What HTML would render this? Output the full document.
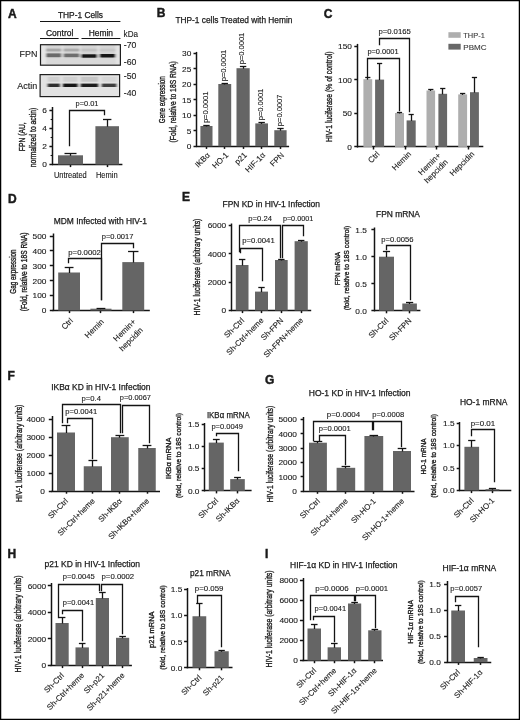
<!DOCTYPE html>
<html><head><meta charset="utf-8"><title>Figure</title>
<style>
html,body{margin:0;padding:0;background:#fff;}
body{width:520px;height:720px;overflow:hidden;}
svg{display:block;will-change:transform;}
svg text{font-family:"Liberation Sans", sans-serif;fill:#1a1a1a;stroke:#1a1a1a;stroke-width:0.12px;}
svg text.yl{stroke-width:0.35px;}
svg text.lt{stroke-width:0.45px;}
svg text.tt{stroke-width:0.25px;}
</style></head>
<body>
<svg width="520" height="720" viewBox="0 0 520 720">
<rect x="0" y="0" width="520" height="720" fill="#fff"/>
<text x="8" y="17.5" font-size="12" font-weight="bold" class="lt">A</text>
<text x="57.9" y="18.3" font-size="8.4" textLength="45.1" lengthAdjust="spacingAndGlyphs" class="tt">THP-1 Cells</text>
<line x1="40" y1="21.5" x2="120.4" y2="21.5" stroke="#141414" stroke-width="1.1"/>
<text x="46" y="36" font-size="8.4" textLength="27.3" lengthAdjust="spacingAndGlyphs" class="tt">Control</text>
<text x="88.7" y="36" font-size="8.4" textLength="24.3" lengthAdjust="spacingAndGlyphs" class="tt">Hemin</text>
<line x1="40" y1="38.5" x2="78.6" y2="38.5" stroke="#141414" stroke-width="1.1"/>
<line x1="81.5" y1="38.5" x2="120.4" y2="38.5" stroke="#141414" stroke-width="1.1"/>
<text x="123.6" y="36.6" font-size="8.4" textLength="14.4" lengthAdjust="spacingAndGlyphs">kDa</text>
<text x="123.8" y="48.3" font-size="8.2" textLength="12.6" lengthAdjust="spacingAndGlyphs">-70</text>
<text x="123.8" y="65.4" font-size="8.2" textLength="12.6" lengthAdjust="spacingAndGlyphs">-60</text>
<text x="123.8" y="79" font-size="8.2" textLength="12.6" lengthAdjust="spacingAndGlyphs">-50</text>
<text x="123.8" y="95.5" font-size="8.2" textLength="12.6" lengthAdjust="spacingAndGlyphs">-40</text>
<text x="19.6" y="57.2" font-size="9" textLength="17.8" lengthAdjust="spacingAndGlyphs">FPN</text>
<text x="17.3" y="89.4" font-size="9" textLength="20" lengthAdjust="spacingAndGlyphs">Actin</text>

<defs>
<linearGradient id="bg1" x1="0" y1="0" x2="1" y2="0">
<stop offset="0" stop-color="#d4d4d4"/><stop offset="0.3" stop-color="#dcdcdc"/><stop offset="0.55" stop-color="#cfcfcf"/><stop offset="1" stop-color="#d6d6d6"/>
</linearGradient>
<filter id="blur1" x="-20%" y="-50%" width="140%" height="200%"><feGaussianBlur stdDeviation="0.9 0.7"/></filter>
<filter id="blur2" x="-20%" y="-50%" width="140%" height="200%"><feGaussianBlur stdDeviation="0.6 0.5"/></filter>
</defs>
<clipPath id="cp1"><rect x="40.8" y="44.7" width="79.2" height="19.9"/></clipPath>
<clipPath id="cp2"><rect x="40.6" y="75.1" width="78.6" height="21.1"/></clipPath>
<rect x="40.5" y="44.7" width="79.9" height="20.5" fill="#d4d4d4"/>
<g clip-path="url(#cp1)"><g filter="url(#blur1)">
<rect x="40.5" y="44.2" width="5.5" height="20.8" fill="#e6e6e6"/>
<rect x="115.5" y="44.2" width="4.9" height="20.8" fill="#e4e4e4"/>
<rect x="61.3" y="44.2" width="2.3" height="20.8" fill="#e2e2e2"/>
<rect x="79.4" y="44.2" width="1.6" height="20.8" fill="#e2e2e2"/>
<rect x="97.2" y="44.2" width="2.4" height="20.8" fill="#e2e2e2"/>
<rect x="46" y="58.5" width="69.5" height="6.5" fill="#d9d9d9"/>
<rect x="46" y="48.6" width="15.3" height="2.8" fill="#a8a8a8"/>
<rect x="63.6" y="48.6" width="15.8" height="2.8" fill="#acacac"/>
<rect x="81" y="48.6" width="16.2" height="2.8" fill="#c2c2c2"/>
<rect x="99.6" y="48.6" width="15.7" height="2.8" fill="#c8c8c8"/>
<rect x="46" y="53.4" width="15.3" height="3.8" fill="#6a6a6a"/>
<rect x="63.6" y="53.6" width="15.8" height="3.6" fill="#6e6e6e"/>
<rect x="81" y="54.3" width="16.2" height="3.4" fill="#141414"/>
<rect x="99.6" y="54" width="15.7" height="3.5" fill="#121212"/>
</g></g>
<rect x="40.5" y="44.7" width="79.9" height="20.5" fill="none" stroke="#1e1e1e" stroke-width="1.2"/>
<rect x="40.1" y="74.6" width="79.5" height="22" fill="#e2e2e2"/>
<g clip-path="url(#cp2)"><g filter="url(#blur1)">
<rect x="47.7" y="76.8" width="12.1" height="4.9" fill="#cfcfcf"/>
<rect x="63" y="76.8" width="14.6" height="4.9" fill="#d0d0d0"/>
<rect x="80.8" y="76.8" width="17.3" height="4.9" fill="#c6c6c6"/>
<rect x="101.8" y="76.8" width="14.6" height="4.9" fill="#d6d6d6"/>
<rect x="47.7" y="83.6" width="12.1" height="3.4" fill="#2e2e2e"/>
<rect x="63" y="83.6" width="14.6" height="3.4" fill="#161616"/>
<rect x="80.8" y="83.6" width="17.3" height="3.4" fill="#1a1a1a"/>
<rect x="101.8" y="83.6" width="14.6" height="3.4" fill="#3c3c3c"/>
</g></g>
<rect x="40.1" y="74.6" width="79.5" height="22" fill="none" stroke="#1e1e1e" stroke-width="1.2"/>
<line x1="52.5" y1="107" x2="52.5" y2="165.1" stroke="#141414" stroke-width="1.5"/>
<line x1="49.4" y1="164.5" x2="52.6" y2="164.5" stroke="#141414" stroke-width="1.5"/>
<text x="47" y="167.38" font-size="8" text-anchor="end" textLength="4.63" lengthAdjust="spacingAndGlyphs">0</text>
<line x1="49.4" y1="146.5" x2="52.6" y2="146.5" stroke="#141414" stroke-width="1.5"/>
<text x="47" y="149.28" font-size="8" text-anchor="end" textLength="4.63" lengthAdjust="spacingAndGlyphs">2</text>
<line x1="49.4" y1="128.5" x2="52.6" y2="128.5" stroke="#141414" stroke-width="1.5"/>
<text x="47" y="131.18" font-size="8" text-anchor="end" textLength="4.63" lengthAdjust="spacingAndGlyphs">4</text>
<line x1="49.4" y1="110.5" x2="52.6" y2="110.5" stroke="#141414" stroke-width="1.5"/>
<text x="47" y="113.08" font-size="8" text-anchor="end" textLength="4.63" lengthAdjust="spacingAndGlyphs">6</text>
<line x1="50.6" y1="155.5" x2="52.6" y2="155.5" stroke="#141414" stroke-width="1.1"/>
<line x1="50.6" y1="137.5" x2="52.6" y2="137.5" stroke="#141414" stroke-width="1.1"/>
<line x1="50.6" y1="119.5" x2="52.6" y2="119.5" stroke="#141414" stroke-width="1.1"/>
<line x1="52" y1="164.5" x2="122.4" y2="164.5" stroke="#141414" stroke-width="1.5"/>
<line x1="70.5" y1="164.5" x2="70.5" y2="167.1" stroke="#141414" stroke-width="1.5"/>
<line x1="107.5" y1="164.5" x2="107.5" y2="167.1" stroke="#141414" stroke-width="1.5"/>
<rect x="58" y="155.3" width="25" height="9.2" fill="#656565"/>
<line x1="70.5" y1="153.2" x2="70.5" y2="155.8" stroke="#141414" stroke-width="1.3"/>
<line x1="64.5" y1="153.5" x2="76.5" y2="153.5" stroke="#141414" stroke-width="1.3"/>
<rect x="95.4" y="126.2" width="23.6" height="38.3" fill="#656565"/>
<line x1="107.5" y1="119.2" x2="107.5" y2="126.7" stroke="#141414" stroke-width="1.3"/>
<line x1="103" y1="119.5" x2="111.4" y2="119.5" stroke="#141414" stroke-width="1.3"/>
<polyline points="69.5,145.5 69.5,110.5 104.5,110.5 104.5,114.5" fill="none" stroke="#141414" stroke-width="1.3" stroke-linejoin="miter" stroke-linecap="square"/>
<text x="75.6" y="105.7" font-size="7.4" textLength="22.9" lengthAdjust="spacingAndGlyphs">p=0.01</text>
<text x="53.9" y="178.4" font-size="8.5" textLength="32.9" lengthAdjust="spacingAndGlyphs">Untreated</text>
<text x="95.9" y="178.4" font-size="8.5" textLength="21.8" lengthAdjust="spacingAndGlyphs">Hemin</text>
<text transform="translate(24.96 136.7) rotate(-90)" x="0" y="0" font-size="9.3" text-anchor="middle" textLength="28.9" lengthAdjust="spacingAndGlyphs" class="yl">FPN (AU,</text>
<text transform="translate(36.06 137.5) rotate(-90)" x="0" y="0" font-size="9.3" text-anchor="middle" textLength="59.4" lengthAdjust="spacingAndGlyphs" class="yl">normalized to actin)</text>
<text x="156.7" y="16.9" font-size="12" font-weight="bold" class="lt">B</text>
<text x="175.4" y="22.7" font-size="8.4" textLength="117" lengthAdjust="spacingAndGlyphs" class="tt">THP-1 cells Treated with Hemin</text>
<line x1="196.5" y1="51.9" x2="196.5" y2="146.9" stroke="#141414" stroke-width="1.5"/>
<line x1="193.5" y1="146.5" x2="196.7" y2="146.5" stroke="#141414" stroke-width="1.5"/>
<text x="191.3" y="149.18" font-size="8" text-anchor="end" textLength="4.63" lengthAdjust="spacingAndGlyphs">0</text>
<line x1="193.5" y1="130.5" x2="196.7" y2="130.5" stroke="#141414" stroke-width="1.5"/>
<text x="191.3" y="133.72" font-size="8" text-anchor="end" textLength="4.63" lengthAdjust="spacingAndGlyphs">5</text>
<line x1="193.5" y1="115.5" x2="196.7" y2="115.5" stroke="#141414" stroke-width="1.5"/>
<text x="191.3" y="118.25" font-size="8" text-anchor="end" textLength="9.25" lengthAdjust="spacingAndGlyphs">10</text>
<line x1="193.5" y1="99.5" x2="196.7" y2="99.5" stroke="#141414" stroke-width="1.5"/>
<text x="191.3" y="102.79" font-size="8" text-anchor="end" textLength="9.25" lengthAdjust="spacingAndGlyphs">15</text>
<line x1="193.5" y1="84.5" x2="196.7" y2="84.5" stroke="#141414" stroke-width="1.5"/>
<text x="191.3" y="87.32" font-size="8" text-anchor="end" textLength="9.25" lengthAdjust="spacingAndGlyphs">20</text>
<line x1="193.5" y1="68.5" x2="196.7" y2="68.5" stroke="#141414" stroke-width="1.5"/>
<text x="191.3" y="71.86" font-size="8" text-anchor="end" textLength="9.25" lengthAdjust="spacingAndGlyphs">25</text>
<line x1="193.5" y1="53.5" x2="196.7" y2="53.5" stroke="#141414" stroke-width="1.5"/>
<text x="191.3" y="56.39" font-size="8" text-anchor="end" textLength="9.25" lengthAdjust="spacingAndGlyphs">30</text>
<line x1="196.1" y1="146.5" x2="289.1" y2="146.5" stroke="#141414" stroke-width="1.5"/>
<line x1="206.5" y1="146.3" x2="206.5" y2="148.9" stroke="#141414" stroke-width="1.5"/>
<line x1="224.5" y1="146.3" x2="224.5" y2="148.9" stroke="#141414" stroke-width="1.5"/>
<line x1="243.5" y1="146.3" x2="243.5" y2="148.9" stroke="#141414" stroke-width="1.5"/>
<line x1="261.5" y1="146.3" x2="261.5" y2="148.9" stroke="#141414" stroke-width="1.5"/>
<line x1="280.5" y1="146.3" x2="280.5" y2="148.9" stroke="#141414" stroke-width="1.5"/>
<rect x="200.4" y="126" width="12.1" height="20.3" fill="#656565"/>
<line x1="206.5" y1="125" x2="206.5" y2="126.5" stroke="#141414" stroke-width="1.3"/>
<line x1="203.25" y1="125.5" x2="209.65" y2="125.5" stroke="#141414" stroke-width="1.3"/>
<rect x="218.3" y="84" width="12.9" height="62.3" fill="#656565"/>
<line x1="224.5" y1="83.2" x2="224.5" y2="84.5" stroke="#141414" stroke-width="1.3"/>
<line x1="221.55" y1="83.5" x2="227.95" y2="83.5" stroke="#141414" stroke-width="1.3"/>
<rect x="236.5" y="68.2" width="13.2" height="78.1" fill="#656565"/>
<line x1="243.5" y1="66.2" x2="243.5" y2="68.7" stroke="#141414" stroke-width="1.3"/>
<line x1="239.9" y1="66.5" x2="246.3" y2="66.5" stroke="#141414" stroke-width="1.3"/>
<rect x="255.3" y="123.4" width="12.7" height="22.9" fill="#656565"/>
<line x1="261.5" y1="122.2" x2="261.5" y2="123.9" stroke="#141414" stroke-width="1.3"/>
<line x1="258.45" y1="122.5" x2="264.85" y2="122.5" stroke="#141414" stroke-width="1.3"/>
<rect x="274.3" y="130.2" width="12.3" height="16.1" fill="#656565"/>
<line x1="280.5" y1="128.1" x2="280.5" y2="130.7" stroke="#141414" stroke-width="1.3"/>
<line x1="277.25" y1="128.5" x2="283.65" y2="128.5" stroke="#141414" stroke-width="1.3"/>
<text transform="translate(207.7 123.1) rotate(-90)" x="0" y="0" font-size="6.8" textLength="31.6" lengthAdjust="spacingAndGlyphs">p=0.0001</text>
<text transform="translate(226 81.3) rotate(-90)" x="0" y="0" font-size="6.8" textLength="31.6" lengthAdjust="spacingAndGlyphs">p=0.0001</text>
<text transform="translate(244.35 64.3) rotate(-90)" x="0" y="0" font-size="6.8" textLength="31.6" lengthAdjust="spacingAndGlyphs">p=0.0001</text>
<text transform="translate(262.9 120.3) rotate(-90)" x="0" y="0" font-size="6.8" textLength="31.6" lengthAdjust="spacingAndGlyphs">p=0.0001</text>
<text transform="translate(281.7 126.2) rotate(-90)" x="0" y="0" font-size="6.8" textLength="31.6" lengthAdjust="spacingAndGlyphs">p=0.0007</text>
<text transform="translate(210.65 155.6) rotate(-45)" x="0" y="0" font-size="8" text-anchor="end">IKBα</text>
<text transform="translate(228.95 155.6) rotate(-45)" x="0" y="0" font-size="8" text-anchor="end">HO-1</text>
<text transform="translate(247.3 155.6) rotate(-45)" x="0" y="0" font-size="8" text-anchor="end">p21</text>
<text transform="translate(265.85 155.6) rotate(-45)" x="0" y="0" font-size="8" text-anchor="end">HIF-1α</text>
<text transform="translate(284.65 155.6) rotate(-45)" x="0" y="0" font-size="8" text-anchor="end">FPN</text>
<text transform="translate(164.88 99.7) rotate(-90)" x="0" y="0" font-size="9" text-anchor="middle" textLength="46.9" lengthAdjust="spacingAndGlyphs" class="yl">Gene expression</text>
<text transform="translate(176.28 101.9) rotate(-90)" x="0" y="0" font-size="9" text-anchor="middle" textLength="81.2" lengthAdjust="spacingAndGlyphs" class="yl">(Fold, relative to 18S RNA)</text>
<text x="323.8" y="17.6" font-size="12" font-weight="bold" class="lt">C</text>
<line x1="357.5" y1="43.9" x2="357.5" y2="147.5" stroke="#141414" stroke-width="1.5"/>
<line x1="354.3" y1="146.5" x2="357.5" y2="146.5" stroke="#141414" stroke-width="1.5"/>
<text x="351.9" y="149.78" font-size="8" text-anchor="end" textLength="4.63" lengthAdjust="spacingAndGlyphs">0</text>
<line x1="354.3" y1="113.5" x2="357.5" y2="113.5" stroke="#141414" stroke-width="1.5"/>
<text x="351.9" y="116.18" font-size="8" text-anchor="end" textLength="9.25" lengthAdjust="spacingAndGlyphs">50</text>
<line x1="354.3" y1="79.5" x2="357.5" y2="79.5" stroke="#141414" stroke-width="1.5"/>
<text x="351.9" y="82.58" font-size="8" text-anchor="end" textLength="13.88" lengthAdjust="spacingAndGlyphs">100</text>
<line x1="354.3" y1="46.5" x2="357.5" y2="46.5" stroke="#141414" stroke-width="1.5"/>
<text x="351.9" y="48.98" font-size="8" text-anchor="end" textLength="13.88" lengthAdjust="spacingAndGlyphs">150</text>
<line x1="356.9" y1="146.5" x2="483.3" y2="146.5" stroke="#141414" stroke-width="1.5"/>
<line x1="373.5" y1="146.9" x2="373.5" y2="149.5" stroke="#141414" stroke-width="1.5"/>
<line x1="405.5" y1="146.9" x2="405.5" y2="149.5" stroke="#141414" stroke-width="1.5"/>
<line x1="436.5" y1="146.9" x2="436.5" y2="149.5" stroke="#141414" stroke-width="1.5"/>
<line x1="468.5" y1="146.9" x2="468.5" y2="149.5" stroke="#141414" stroke-width="1.5"/>
<rect x="363.4" y="79.2" width="8.8" height="67.7" fill="#aeaeae"/>
<line x1="367.5" y1="77.9" x2="367.5" y2="79.7" stroke="#141414" stroke-width="1.3"/>
<line x1="365.2" y1="77.5" x2="370.4" y2="77.5" stroke="#141414" stroke-width="1.3"/>
<rect x="395" y="113" width="9" height="33.9" fill="#aeaeae"/>
<line x1="399.5" y1="112" x2="399.5" y2="113.5" stroke="#141414" stroke-width="1.3"/>
<line x1="396.9" y1="112.5" x2="402.1" y2="112.5" stroke="#141414" stroke-width="1.3"/>
<rect x="426.5" y="90.5" width="8.6" height="56.4" fill="#aeaeae"/>
<line x1="430.5" y1="89.6" x2="430.5" y2="91" stroke="#141414" stroke-width="1.3"/>
<line x1="428.2" y1="89.5" x2="433.4" y2="89.5" stroke="#141414" stroke-width="1.3"/>
<rect x="458.2" y="94.4" width="8.9" height="52.5" fill="#aeaeae"/>
<line x1="462.5" y1="93.6" x2="462.5" y2="94.9" stroke="#141414" stroke-width="1.3"/>
<line x1="460.05" y1="93.5" x2="465.25" y2="93.5" stroke="#141414" stroke-width="1.3"/>
<rect x="375.1" y="79.6" width="9" height="67.3" fill="#686868"/>
<line x1="379.5" y1="63.1" x2="379.5" y2="80.1" stroke="#141414" stroke-width="1.3"/>
<line x1="377" y1="63.5" x2="382.2" y2="63.5" stroke="#141414" stroke-width="1.3"/>
<rect x="406.6" y="120.4" width="9.1" height="26.5" fill="#686868"/>
<line x1="411.5" y1="114.5" x2="411.5" y2="120.9" stroke="#141414" stroke-width="1.3"/>
<line x1="408.55" y1="114.5" x2="413.75" y2="114.5" stroke="#141414" stroke-width="1.3"/>
<rect x="438.4" y="93.8" width="8.7" height="53.1" fill="#686868"/>
<line x1="442.5" y1="88.2" x2="442.5" y2="94.3" stroke="#141414" stroke-width="1.3"/>
<line x1="440.15" y1="88.5" x2="445.35" y2="88.5" stroke="#141414" stroke-width="1.3"/>
<rect x="470" y="92.2" width="8.9" height="54.7" fill="#686868"/>
<line x1="474.5" y1="77.3" x2="474.5" y2="92.7" stroke="#141414" stroke-width="1.3"/>
<line x1="471.85" y1="77.5" x2="477.05" y2="77.5" stroke="#141414" stroke-width="1.3"/>
<polyline points="367.5,76.5 367.5,58.5 399.5,58.5 399.5,110.5" fill="none" stroke="#141414" stroke-width="1.3" stroke-linejoin="miter" stroke-linecap="square"/>
<polyline points="379.5,44.5 379.5,38.5 409.5,38.5 409.5,111.5" fill="none" stroke="#141414" stroke-width="1.3" stroke-linejoin="miter" stroke-linecap="square"/>
<text x="367.4" y="53.8" font-size="7.4" textLength="31.2" lengthAdjust="spacingAndGlyphs">p=0.0001</text>
<text x="378.4" y="34.3" font-size="7.4" textLength="32.4" lengthAdjust="spacingAndGlyphs">p=0.0165</text>
<rect x="448.4" y="32.2" width="12.3" height="5.6" fill="#aeaeae"/>
<rect x="448.4" y="43.8" width="12.3" height="5.8" fill="#686868"/>
<text x="463.3" y="37.9" font-size="8" textLength="21.5" lengthAdjust="spacingAndGlyphs" style="fill:#3a3a3a;stroke:#3a3a3a">THP-1</text>
<text x="463.3" y="49.6" font-size="8" textLength="23.2" lengthAdjust="spacingAndGlyphs" style="fill:#3a3a3a;stroke:#3a3a3a">PBMC</text>
<text transform="translate(331.88 96.8) rotate(-90)" x="0" y="0" font-size="9" text-anchor="middle" textLength="90.5" lengthAdjust="spacingAndGlyphs" class="yl">HIV-1 luciferase (% of control)</text>
<text transform="translate(380.1 154.6) rotate(-45)" x="0" y="0" font-size="8" text-anchor="end">Ctrl</text>
<text transform="translate(411.6 154.6) rotate(-45)" x="0" y="0" font-size="8" text-anchor="end">Hemin</text>
<text transform="translate(441.2 156) rotate(-45)" x="0" y="0" font-size="8" text-anchor="end">Hemin+</text>
<text transform="translate(448.5 162.7) rotate(-45)" x="0" y="0" font-size="8" text-anchor="end">hepcidin</text>
<text transform="translate(474.9 154.6) rotate(-45)" x="0" y="0" font-size="8" text-anchor="end">Hepcidin</text>
<text x="8" y="202.5" font-size="12" font-weight="bold" class="lt">D</text>
<text x="53.75" y="223.5" font-size="8.4" textLength="93.25" lengthAdjust="spacingAndGlyphs" class="tt">MDM Infected with HIV-1</text>
<line x1="53.5" y1="233.5" x2="53.5" y2="311.1" stroke="#141414" stroke-width="1.5"/>
<line x1="49.8" y1="310.5" x2="53" y2="310.5" stroke="#141414" stroke-width="1.5"/>
<text x="46.4" y="313.38" font-size="8" text-anchor="end" textLength="4.63" lengthAdjust="spacingAndGlyphs">0</text>
<line x1="49.8" y1="295.5" x2="53" y2="295.5" stroke="#141414" stroke-width="1.5"/>
<text x="46.4" y="298.48" font-size="8" text-anchor="end" textLength="13.88" lengthAdjust="spacingAndGlyphs">100</text>
<line x1="49.8" y1="280.5" x2="53" y2="280.5" stroke="#141414" stroke-width="1.5"/>
<text x="46.4" y="283.58" font-size="8" text-anchor="end" textLength="13.88" lengthAdjust="spacingAndGlyphs">200</text>
<line x1="49.8" y1="265.5" x2="53" y2="265.5" stroke="#141414" stroke-width="1.5"/>
<text x="46.4" y="268.68" font-size="8" text-anchor="end" textLength="13.88" lengthAdjust="spacingAndGlyphs">300</text>
<line x1="49.8" y1="250.5" x2="53" y2="250.5" stroke="#141414" stroke-width="1.5"/>
<text x="46.4" y="253.78" font-size="8" text-anchor="end" textLength="13.88" lengthAdjust="spacingAndGlyphs">400</text>
<line x1="49.8" y1="236.5" x2="53" y2="236.5" stroke="#141414" stroke-width="1.5"/>
<text x="46.4" y="238.88" font-size="8" text-anchor="end" textLength="13.88" lengthAdjust="spacingAndGlyphs">500</text>
<line x1="52.4" y1="310.5" x2="149.8" y2="310.5" stroke="#141414" stroke-width="1.5"/>
<line x1="69.5" y1="310.5" x2="69.5" y2="313.1" stroke="#141414" stroke-width="1.5"/>
<line x1="100.5" y1="310.5" x2="100.5" y2="313.1" stroke="#141414" stroke-width="1.5"/>
<line x1="133.5" y1="310.5" x2="133.5" y2="313.1" stroke="#141414" stroke-width="1.5"/>
<rect x="58.2" y="272.5" width="21.8" height="38" fill="#656565"/>
<line x1="69.5" y1="267.5" x2="69.5" y2="273" stroke="#141414" stroke-width="1.3"/>
<line x1="64.7" y1="267.5" x2="73.5" y2="267.5" stroke="#141414" stroke-width="1.3"/>
<rect x="90.4" y="308.7" width="21.1" height="1.8" fill="#656565"/>
<line x1="100.5" y1="308" x2="100.5" y2="309.2" stroke="#141414" stroke-width="1.3"/>
<line x1="96.55" y1="308.5" x2="105.35" y2="308.5" stroke="#141414" stroke-width="1.3"/>
<rect x="122.3" y="262.1" width="21.9" height="48.4" fill="#656565"/>
<line x1="133.5" y1="251" x2="133.5" y2="262.6" stroke="#141414" stroke-width="1.3"/>
<line x1="128.05" y1="251.5" x2="138.45" y2="251.5" stroke="#141414" stroke-width="1.3"/>
<polyline points="68.5,262.5 68.5,258.5 101.5,258.5 101.5,299.5" fill="none" stroke="#141414" stroke-width="1.3" stroke-linejoin="miter" stroke-linecap="square"/>
<polyline points="101.5,299.5 101.5,243.5 133.5,243.5 133.5,247.5" fill="none" stroke="#141414" stroke-width="1.3" stroke-linejoin="miter" stroke-linecap="square"/>
<text x="68.3" y="255" font-size="7.4" textLength="32.6" lengthAdjust="spacingAndGlyphs">p=0.0002</text>
<text x="101.8" y="239.2" font-size="7.4" textLength="31.6" lengthAdjust="spacingAndGlyphs">p=0.0017</text>
<text transform="translate(16.2 271.6) rotate(-90)" x="0" y="0" font-size="8.2" text-anchor="middle" textLength="44.4" lengthAdjust="spacingAndGlyphs" class="yl">Gag expression</text>
<text transform="translate(26.5 271.9) rotate(-90)" x="0" y="0" font-size="8.2" text-anchor="middle" textLength="78.8" lengthAdjust="spacingAndGlyphs" class="yl">(Fold, relative to 18S RNA)</text>
<text transform="translate(73.5 321.25) rotate(-45)" x="0" y="0" font-size="8" text-anchor="end">Ctrl</text>
<text transform="translate(104.3 322.3) rotate(-45)" x="0" y="0" font-size="8" text-anchor="end">Hemin</text>
<text transform="translate(136.2 322.3) rotate(-45)" x="0" y="0" font-size="8" text-anchor="end">Hemin+</text>
<text transform="translate(143.5 330.6) rotate(-45)" x="0" y="0" font-size="8" text-anchor="end">hepcidin</text>
<text x="182" y="200.5" font-size="12" font-weight="bold" class="lt">E</text>
<text x="222.5" y="207.4" font-size="8.4" textLength="97.5" lengthAdjust="spacingAndGlyphs" class="tt">FPN KD in HIV-1 Infection</text>
<line x1="231.5" y1="223.5" x2="231.5" y2="311.1" stroke="#141414" stroke-width="1.5"/>
<line x1="228.7" y1="310.5" x2="231.9" y2="310.5" stroke="#141414" stroke-width="1.5"/>
<text x="226.25" y="313.38" font-size="8" text-anchor="end" textLength="4.63" lengthAdjust="spacingAndGlyphs">0</text>
<line x1="228.7" y1="282.5" x2="231.9" y2="282.5" stroke="#141414" stroke-width="1.5"/>
<text x="226.25" y="285.05" font-size="8" text-anchor="end" textLength="18.51" lengthAdjust="spacingAndGlyphs">2000</text>
<line x1="228.7" y1="253.5" x2="231.9" y2="253.5" stroke="#141414" stroke-width="1.5"/>
<text x="226.25" y="256.71" font-size="8" text-anchor="end" textLength="18.51" lengthAdjust="spacingAndGlyphs">4000</text>
<line x1="228.7" y1="225.5" x2="231.9" y2="225.5" stroke="#141414" stroke-width="1.5"/>
<text x="226.25" y="228.38" font-size="8" text-anchor="end" textLength="18.51" lengthAdjust="spacingAndGlyphs">6000</text>
<line x1="231.3" y1="310.5" x2="311.2" y2="310.5" stroke="#141414" stroke-width="1.5"/>
<line x1="242.5" y1="310.5" x2="242.5" y2="313.1" stroke="#141414" stroke-width="1.5"/>
<line x1="261.5" y1="310.5" x2="261.5" y2="313.1" stroke="#141414" stroke-width="1.5"/>
<line x1="281.5" y1="310.5" x2="281.5" y2="313.1" stroke="#141414" stroke-width="1.5"/>
<line x1="301.5" y1="310.5" x2="301.5" y2="313.1" stroke="#141414" stroke-width="1.5"/>
<rect x="235.8" y="265" width="12.7" height="45.5" fill="#656565"/>
<line x1="242.5" y1="259.3" x2="242.5" y2="265.5" stroke="#141414" stroke-width="1.3"/>
<line x1="238.95" y1="259.5" x2="245.35" y2="259.5" stroke="#141414" stroke-width="1.3"/>
<rect x="255" y="291.6" width="13" height="18.9" fill="#656565"/>
<line x1="261.5" y1="287" x2="261.5" y2="292.1" stroke="#141414" stroke-width="1.3"/>
<line x1="258.3" y1="287.5" x2="264.7" y2="287.5" stroke="#141414" stroke-width="1.3"/>
<rect x="275" y="260" width="12.7" height="50.5" fill="#656565"/>
<line x1="281.5" y1="259.2" x2="281.5" y2="260.5" stroke="#141414" stroke-width="1.3"/>
<line x1="278.15" y1="259.5" x2="284.55" y2="259.5" stroke="#141414" stroke-width="1.3"/>
<rect x="294.6" y="241.2" width="13.2" height="69.3" fill="#656565"/>
<line x1="301.5" y1="240.5" x2="301.5" y2="241.7" stroke="#141414" stroke-width="1.3"/>
<line x1="298" y1="240.5" x2="304.4" y2="240.5" stroke="#141414" stroke-width="1.3"/>
<polyline points="239.5,251.5 239.5,225.5 280.5,225.5 280.5,257.5" fill="none" stroke="#141414" stroke-width="1.3" stroke-linejoin="miter" stroke-linecap="square"/>
<polyline points="282.5,257.5 282.5,225.5 303.5,225.5 303.5,235.5" fill="none" stroke="#141414" stroke-width="1.3" stroke-linejoin="miter" stroke-linecap="square"/>
<polyline points="240.5,252.5 240.5,248.5 262.5,248.5 262.5,280.5" fill="none" stroke="#141414" stroke-width="1.3" stroke-linejoin="miter" stroke-linecap="square"/>
<text x="248.3" y="221.2" font-size="7.4" textLength="23.6" lengthAdjust="spacingAndGlyphs">p=0.24</text>
<text x="282.9" y="221.2" font-size="7.4" textLength="30.3" lengthAdjust="spacingAndGlyphs">p=0.0001</text>
<text x="242.3" y="243" font-size="7.4" textLength="32.4" lengthAdjust="spacingAndGlyphs">p=0.0041</text>
<text transform="translate(199.95 267.1) rotate(-90)" x="0" y="0" font-size="9.3" text-anchor="middle" textLength="97" lengthAdjust="spacingAndGlyphs" class="yl">HIV-1 luciferase (arbitrary units)</text>
<text transform="translate(244.65 321) rotate(-45)" x="0" y="0" font-size="7.9" text-anchor="end">Sh-Ctrl</text>
<text transform="translate(264 321) rotate(-45)" x="0" y="0" font-size="7.9" text-anchor="end">Sh-Ctrl+heme</text>
<text transform="translate(283.85 321) rotate(-45)" x="0" y="0" font-size="7.9" text-anchor="end">Sh-FPN</text>
<text transform="translate(303.7 321) rotate(-45)" x="0" y="0" font-size="7.9" text-anchor="end">Sh-FPN+heme</text>
<text x="376" y="216.6" font-size="8.4" textLength="44" lengthAdjust="spacingAndGlyphs" class="tt">FPN mRNA</text>
<line x1="374.5" y1="227.5" x2="374.5" y2="311.3" stroke="#141414" stroke-width="1.5"/>
<line x1="371.4" y1="310.5" x2="374.6" y2="310.5" stroke="#141414" stroke-width="1.5"/>
<text x="366.9" y="313.58" font-size="8" text-anchor="end" textLength="11.56" lengthAdjust="spacingAndGlyphs">0.0</text>
<line x1="371.4" y1="283.5" x2="374.6" y2="283.5" stroke="#141414" stroke-width="1.5"/>
<text x="366.9" y="286.58" font-size="8" text-anchor="end" textLength="11.56" lengthAdjust="spacingAndGlyphs">0.5</text>
<line x1="371.4" y1="256.5" x2="374.6" y2="256.5" stroke="#141414" stroke-width="1.5"/>
<text x="366.9" y="259.58" font-size="8" text-anchor="end" textLength="11.56" lengthAdjust="spacingAndGlyphs">1.0</text>
<line x1="371.4" y1="229.5" x2="374.6" y2="229.5" stroke="#141414" stroke-width="1.5"/>
<text x="366.9" y="232.58" font-size="8" text-anchor="end" textLength="11.56" lengthAdjust="spacingAndGlyphs">1.5</text>
<line x1="374" y1="310.5" x2="420.4" y2="310.5" stroke="#141414" stroke-width="1.5"/>
<line x1="386.5" y1="310.7" x2="386.5" y2="313.3" stroke="#141414" stroke-width="1.5"/>
<line x1="409.5" y1="310.7" x2="409.5" y2="313.3" stroke="#141414" stroke-width="1.5"/>
<rect x="379" y="256.7" width="15" height="54" fill="#656565"/>
<line x1="386.5" y1="251.5" x2="386.5" y2="257.2" stroke="#141414" stroke-width="1.3"/>
<line x1="382.9" y1="251.5" x2="390.1" y2="251.5" stroke="#141414" stroke-width="1.3"/>
<rect x="402.3" y="303.5" width="14.6" height="7.2" fill="#656565"/>
<line x1="409.5" y1="302.5" x2="409.5" y2="304" stroke="#141414" stroke-width="1.3"/>
<line x1="406" y1="302.5" x2="413.2" y2="302.5" stroke="#141414" stroke-width="1.3"/>
<polyline points="386.5,249.5 386.5,245.5 410.5,245.5 410.5,299.5" fill="none" stroke="#141414" stroke-width="1.3" stroke-linejoin="miter" stroke-linecap="square"/>
<text x="381.3" y="241.5" font-size="7.4" textLength="32.15" lengthAdjust="spacingAndGlyphs">p=0.0056</text>
<text transform="translate(339.69 268.6) rotate(-90)" x="0" y="0" font-size="7.9" text-anchor="middle" textLength="33.3" lengthAdjust="spacingAndGlyphs" class="yl">FPN mRNA</text>
<text transform="translate(349.29 268) rotate(-90)" x="0" y="0" font-size="7.9" text-anchor="middle" textLength="84.7" lengthAdjust="spacingAndGlyphs" class="yl">(fold, relative to 18S control)</text>
<text transform="translate(389 321.2) rotate(-45)" x="0" y="0" font-size="7.9" text-anchor="end">Sh-Ctrl</text>
<text transform="translate(412.1 321.2) rotate(-45)" x="0" y="0" font-size="7.9" text-anchor="end">Sh-FPN</text>
<text x="7.5" y="380" font-size="12" font-weight="bold" class="lt">F</text>
<text x="51.25" y="389.7" font-size="8.4" textLength="99.25" lengthAdjust="spacingAndGlyphs" class="tt">IKBα KD in HIV-1 Infection</text>
<line x1="52.5" y1="416" x2="52.5" y2="491.7" stroke="#141414" stroke-width="1.5"/>
<line x1="48.8" y1="491.5" x2="52" y2="491.5" stroke="#141414" stroke-width="1.5"/>
<text x="45" y="493.98" font-size="8" text-anchor="end" textLength="4.63" lengthAdjust="spacingAndGlyphs">0</text>
<line x1="48.8" y1="473.5" x2="52" y2="473.5" stroke="#141414" stroke-width="1.5"/>
<text x="45" y="475.98" font-size="8" text-anchor="end" textLength="18.51" lengthAdjust="spacingAndGlyphs">1000</text>
<line x1="48.8" y1="455.5" x2="52" y2="455.5" stroke="#141414" stroke-width="1.5"/>
<text x="45" y="457.98" font-size="8" text-anchor="end" textLength="18.51" lengthAdjust="spacingAndGlyphs">2000</text>
<line x1="48.8" y1="437.5" x2="52" y2="437.5" stroke="#141414" stroke-width="1.5"/>
<text x="45" y="439.98" font-size="8" text-anchor="end" textLength="18.51" lengthAdjust="spacingAndGlyphs">3000</text>
<line x1="48.8" y1="419.5" x2="52" y2="419.5" stroke="#141414" stroke-width="1.5"/>
<text x="45" y="421.98" font-size="8" text-anchor="end" textLength="18.51" lengthAdjust="spacingAndGlyphs">4000</text>
<line x1="51.4" y1="491.5" x2="160" y2="491.5" stroke="#141414" stroke-width="1.5"/>
<line x1="66.5" y1="491.1" x2="66.5" y2="493.7" stroke="#141414" stroke-width="1.5"/>
<line x1="92.5" y1="491.1" x2="92.5" y2="493.7" stroke="#141414" stroke-width="1.5"/>
<line x1="119.5" y1="491.1" x2="119.5" y2="493.7" stroke="#141414" stroke-width="1.5"/>
<line x1="147.5" y1="491.1" x2="147.5" y2="493.7" stroke="#141414" stroke-width="1.5"/>
<rect x="57" y="432.5" width="18" height="58.6" fill="#656565"/>
<line x1="66.5" y1="425" x2="66.5" y2="433" stroke="#141414" stroke-width="1.3"/>
<line x1="61.6" y1="425.5" x2="70.4" y2="425.5" stroke="#141414" stroke-width="1.3"/>
<rect x="83.75" y="466.25" width="18.25" height="24.85" fill="#656565"/>
<line x1="92.5" y1="460.4" x2="92.5" y2="466.75" stroke="#141414" stroke-width="1.3"/>
<line x1="88.47" y1="460.5" x2="97.28" y2="460.5" stroke="#141414" stroke-width="1.3"/>
<rect x="111" y="437.2" width="17.75" height="53.9" fill="#656565"/>
<line x1="119.5" y1="435.5" x2="119.5" y2="437.7" stroke="#141414" stroke-width="1.3"/>
<line x1="115.47" y1="435.5" x2="124.28" y2="435.5" stroke="#141414" stroke-width="1.3"/>
<rect x="138.25" y="448" width="17.5" height="43.1" fill="#656565"/>
<line x1="147.5" y1="445" x2="147.5" y2="448.5" stroke="#141414" stroke-width="1.3"/>
<line x1="142.6" y1="445.5" x2="151.4" y2="445.5" stroke="#141414" stroke-width="1.3"/>
<polyline points="62.5,422.5 62.5,404.5 120.5,404.5 120.5,432.5" fill="none" stroke="#141414" stroke-width="1.3" stroke-linejoin="miter" stroke-linecap="square"/>
<polyline points="122.5,432.5 122.5,405.5 149.5,405.5 149.5,442.5" fill="none" stroke="#141414" stroke-width="1.3" stroke-linejoin="miter" stroke-linecap="square"/>
<polyline points="67.5,422.5 67.5,418.5 92.5,418.5 92.5,458.5" fill="none" stroke="#141414" stroke-width="1.3" stroke-linejoin="miter" stroke-linecap="square"/>
<text x="81.55" y="400.5" font-size="7.4" textLength="19.4" lengthAdjust="spacingAndGlyphs">p=0.4</text>
<text x="119.8" y="400" font-size="7.4" textLength="31.15" lengthAdjust="spacingAndGlyphs">p=0.0067</text>
<text x="65.3" y="414.25" font-size="7.4" textLength="31.9" lengthAdjust="spacingAndGlyphs">p=0.0041</text>
<text transform="translate(21.5 453.3) rotate(-90)" x="0" y="0" font-size="9.3" text-anchor="middle" textLength="97.4" lengthAdjust="spacingAndGlyphs" class="yl">HIV-1 luciferase (arbitrary units)</text>
<text transform="translate(68.5 501.6) rotate(-45)" x="0" y="0" font-size="7.9" text-anchor="end">Sh-Ctrl</text>
<text transform="translate(95.38 501.6) rotate(-45)" x="0" y="0" font-size="7.9" text-anchor="end">Sh-Ctrl+heme</text>
<text transform="translate(122.38 501.6) rotate(-45)" x="0" y="0" font-size="7.9" text-anchor="end">Sh-IKBα</text>
<text transform="translate(149.5 501.6) rotate(-45)" x="0" y="0" font-size="7.9" text-anchor="end">Sh-IKBα+heme</text>
<text x="206.9" y="418.2" font-size="8.4" textLength="42.8" lengthAdjust="spacingAndGlyphs" class="tt">IKBα mRNA</text>
<line x1="204.5" y1="423" x2="204.5" y2="491.4" stroke="#141414" stroke-width="1.5"/>
<line x1="201.7" y1="490.5" x2="204.9" y2="490.5" stroke="#141414" stroke-width="1.5"/>
<text x="199.5" y="493.68" font-size="8" text-anchor="end" textLength="11.56" lengthAdjust="spacingAndGlyphs">0.0</text>
<line x1="201.7" y1="468.5" x2="204.9" y2="468.5" stroke="#141414" stroke-width="1.5"/>
<text x="199.5" y="471.48" font-size="8" text-anchor="end" textLength="11.56" lengthAdjust="spacingAndGlyphs">0.5</text>
<line x1="201.7" y1="446.5" x2="204.9" y2="446.5" stroke="#141414" stroke-width="1.5"/>
<text x="199.5" y="449.28" font-size="8" text-anchor="end" textLength="11.56" lengthAdjust="spacingAndGlyphs">1.0</text>
<line x1="201.7" y1="424.5" x2="204.9" y2="424.5" stroke="#141414" stroke-width="1.5"/>
<text x="199.5" y="427.08" font-size="8" text-anchor="end" textLength="11.56" lengthAdjust="spacingAndGlyphs">1.5</text>
<line x1="204.3" y1="490.5" x2="251.6" y2="490.5" stroke="#141414" stroke-width="1.5"/>
<line x1="216.5" y1="490.8" x2="216.5" y2="493.4" stroke="#141414" stroke-width="1.5"/>
<line x1="237.5" y1="490.8" x2="237.5" y2="493.4" stroke="#141414" stroke-width="1.5"/>
<rect x="208.8" y="442.6" width="15" height="48.2" fill="#656565"/>
<line x1="216.5" y1="439.2" x2="216.5" y2="443.1" stroke="#141414" stroke-width="1.3"/>
<line x1="212.9" y1="439.5" x2="219.7" y2="439.5" stroke="#141414" stroke-width="1.3"/>
<rect x="230.2" y="479.1" width="14.6" height="11.7" fill="#656565"/>
<line x1="237.5" y1="477.6" x2="237.5" y2="479.6" stroke="#141414" stroke-width="1.3"/>
<line x1="234.1" y1="477.5" x2="240.9" y2="477.5" stroke="#141414" stroke-width="1.3"/>
<polyline points="216.5,435.5 216.5,433.5 238.5,433.5 238.5,470.5" fill="none" stroke="#141414" stroke-width="1.3" stroke-linejoin="miter" stroke-linecap="square"/>
<text x="211.4" y="429" font-size="7.4" textLength="31.6" lengthAdjust="spacingAndGlyphs">p=0.0049</text>
<text transform="translate(171.29 458.1) rotate(-90)" x="0" y="0" font-size="7.9" text-anchor="middle" textLength="41.6" lengthAdjust="spacingAndGlyphs" class="yl">IKBα mRNA</text>
<text transform="translate(181.39 455.5) rotate(-90)" x="0" y="0" font-size="7.9" text-anchor="middle" textLength="85" lengthAdjust="spacingAndGlyphs" class="yl">(fold, relative to 18S control)</text>
<text transform="translate(218.8 501.3) rotate(-45)" x="0" y="0" font-size="7.9" text-anchor="end">Sh-Ctrl</text>
<text transform="translate(240 501.3) rotate(-45)" x="0" y="0" font-size="7.9" text-anchor="end">Sh-IKBα</text>
<text x="265" y="383.75" font-size="12" font-weight="bold" class="lt">G</text>
<text x="308.75" y="396" font-size="8.4" textLength="101.85" lengthAdjust="spacingAndGlyphs" class="tt">HO-1 KD in HIV-1 Infection</text>
<line x1="303.5" y1="417" x2="303.5" y2="491.8" stroke="#141414" stroke-width="1.5"/>
<line x1="300.6" y1="491.5" x2="303.8" y2="491.5" stroke="#141414" stroke-width="1.5"/>
<text x="297" y="494.08" font-size="8" text-anchor="end" textLength="4.63" lengthAdjust="spacingAndGlyphs">0</text>
<line x1="300.6" y1="476.5" x2="303.8" y2="476.5" stroke="#141414" stroke-width="1.5"/>
<text x="297" y="479.7" font-size="8" text-anchor="end" textLength="18.51" lengthAdjust="spacingAndGlyphs">1000</text>
<line x1="300.6" y1="462.5" x2="303.8" y2="462.5" stroke="#141414" stroke-width="1.5"/>
<text x="297" y="465.32" font-size="8" text-anchor="end" textLength="18.51" lengthAdjust="spacingAndGlyphs">2000</text>
<line x1="300.6" y1="448.5" x2="303.8" y2="448.5" stroke="#141414" stroke-width="1.5"/>
<text x="297" y="450.94" font-size="8" text-anchor="end" textLength="18.51" lengthAdjust="spacingAndGlyphs">3000</text>
<line x1="300.6" y1="433.5" x2="303.8" y2="433.5" stroke="#141414" stroke-width="1.5"/>
<text x="297" y="436.56" font-size="8" text-anchor="end" textLength="18.51" lengthAdjust="spacingAndGlyphs">4000</text>
<line x1="300.6" y1="419.5" x2="303.8" y2="419.5" stroke="#141414" stroke-width="1.5"/>
<text x="297" y="422.18" font-size="8" text-anchor="end" textLength="18.51" lengthAdjust="spacingAndGlyphs">5000</text>
<line x1="303.2" y1="491.5" x2="414.5" y2="491.5" stroke="#141414" stroke-width="1.5"/>
<line x1="317.5" y1="491.2" x2="317.5" y2="493.8" stroke="#141414" stroke-width="1.5"/>
<line x1="345.5" y1="491.2" x2="345.5" y2="493.8" stroke="#141414" stroke-width="1.5"/>
<line x1="373.5" y1="491.2" x2="373.5" y2="493.8" stroke="#141414" stroke-width="1.5"/>
<line x1="402.5" y1="491.2" x2="402.5" y2="493.8" stroke="#141414" stroke-width="1.5"/>
<rect x="309" y="442.7" width="17.9" height="48.5" fill="#656565"/>
<line x1="317.5" y1="441.5" x2="317.5" y2="443.2" stroke="#141414" stroke-width="1.3"/>
<line x1="313.65" y1="441.5" x2="322.25" y2="441.5" stroke="#141414" stroke-width="1.3"/>
<rect x="336.6" y="467.8" width="18.6" height="23.4" fill="#656565"/>
<line x1="345.5" y1="466.9" x2="345.5" y2="468.3" stroke="#141414" stroke-width="1.3"/>
<line x1="341.6" y1="466.5" x2="350.2" y2="466.5" stroke="#141414" stroke-width="1.3"/>
<rect x="364.4" y="436" width="18.8" height="55.2" fill="#656565"/>
<line x1="373.5" y1="435.2" x2="373.5" y2="436.5" stroke="#141414" stroke-width="1.3"/>
<line x1="369.5" y1="435.5" x2="378.1" y2="435.5" stroke="#141414" stroke-width="1.3"/>
<rect x="393" y="451" width="18" height="40.2" fill="#656565"/>
<line x1="402.5" y1="448.1" x2="402.5" y2="451.5" stroke="#141414" stroke-width="1.3"/>
<line x1="397.7" y1="448.5" x2="406.3" y2="448.5" stroke="#141414" stroke-width="1.3"/>
<polyline points="313.5,440.5 313.5,421.5 372.5,421.5 372.5,429.5" fill="none" stroke="#141414" stroke-width="1.3" stroke-linejoin="miter" stroke-linecap="square"/>
<polyline points="373.5,429.5 373.5,421.5 401.5,421.5 401.5,446.5" fill="none" stroke="#141414" stroke-width="1.3" stroke-linejoin="miter" stroke-linecap="square"/>
<polyline points="319.5,440.5 319.5,435.5 345.5,435.5 345.5,464.5" fill="none" stroke="#141414" stroke-width="1.3" stroke-linejoin="miter" stroke-linecap="square"/>
<text x="326.8" y="416.5" font-size="7.4" textLength="33.4" lengthAdjust="spacingAndGlyphs">p=0.0004</text>
<text x="372.3" y="416.5" font-size="7.4" textLength="31.9" lengthAdjust="spacingAndGlyphs">p=0.0008</text>
<text x="318.8" y="430.7" font-size="7.4" textLength="31.9" lengthAdjust="spacingAndGlyphs">p=0.0001</text>
<text transform="translate(272.9 454) rotate(-90)" x="0" y="0" font-size="9.3" text-anchor="middle" textLength="96.7" lengthAdjust="spacingAndGlyphs" class="yl">HIV-1 luciferase (arbitrary units)</text>
<text transform="translate(320.45 501.7) rotate(-45)" x="0" y="0" font-size="7.9" text-anchor="end">Sh-Ctrl</text>
<text transform="translate(348.4 501.7) rotate(-45)" x="0" y="0" font-size="7.9" text-anchor="end">Sh-Ctrl+heme</text>
<text transform="translate(376.3 501.7) rotate(-45)" x="0" y="0" font-size="7.9" text-anchor="end">Sh-HO-1</text>
<text transform="translate(404.5 501.7) rotate(-45)" x="0" y="0" font-size="7.9" text-anchor="end">Sh-HO-1+heme</text>
<text x="459.9" y="405.4" font-size="8.4" textLength="47.5" lengthAdjust="spacingAndGlyphs" class="tt">HO-1 mRNA</text>
<line x1="459.5" y1="422" x2="459.5" y2="491.1" stroke="#141414" stroke-width="1.5"/>
<line x1="456.7" y1="490.5" x2="459.9" y2="490.5" stroke="#141414" stroke-width="1.5"/>
<text x="454.6" y="493.38" font-size="8" text-anchor="end" textLength="11.56" lengthAdjust="spacingAndGlyphs">0.0</text>
<line x1="456.7" y1="468.5" x2="459.9" y2="468.5" stroke="#141414" stroke-width="1.5"/>
<text x="454.6" y="470.93" font-size="8" text-anchor="end" textLength="11.56" lengthAdjust="spacingAndGlyphs">0.5</text>
<line x1="456.7" y1="445.5" x2="459.9" y2="445.5" stroke="#141414" stroke-width="1.5"/>
<text x="454.6" y="448.48" font-size="8" text-anchor="end" textLength="11.56" lengthAdjust="spacingAndGlyphs">1.0</text>
<line x1="456.7" y1="423.5" x2="459.9" y2="423.5" stroke="#141414" stroke-width="1.5"/>
<text x="454.6" y="426.03" font-size="8" text-anchor="end" textLength="11.56" lengthAdjust="spacingAndGlyphs">1.5</text>
<line x1="459.3" y1="490.5" x2="511.3" y2="490.5" stroke="#141414" stroke-width="1.5"/>
<line x1="471.5" y1="490.5" x2="471.5" y2="493.1" stroke="#141414" stroke-width="1.5"/>
<line x1="492.5" y1="490.5" x2="492.5" y2="493.1" stroke="#141414" stroke-width="1.5"/>
<rect x="464.4" y="446.8" width="14.7" height="43.7" fill="#656565"/>
<line x1="471.5" y1="440.2" x2="471.5" y2="447.3" stroke="#141414" stroke-width="1.3"/>
<line x1="468.15" y1="440.5" x2="475.35" y2="440.5" stroke="#141414" stroke-width="1.3"/>
<rect x="485.5" y="489.2" width="13.9" height="1.3" fill="#656565"/>
<line x1="492.5" y1="488.5" x2="492.5" y2="489.7" stroke="#141414" stroke-width="1.3"/>
<line x1="488.85" y1="488.5" x2="496.05" y2="488.5" stroke="#141414" stroke-width="1.3"/>
<polyline points="471.5,435.5 471.5,429.5 494.5,429.5 494.5,481.5" fill="none" stroke="#141414" stroke-width="1.3" stroke-linejoin="miter" stroke-linecap="square"/>
<text x="470.7" y="425.7" font-size="7.4" textLength="24.5" lengthAdjust="spacingAndGlyphs">p=0.01</text>
<text transform="translate(425.79 456.4) rotate(-90)" x="0" y="0" font-size="7.9" text-anchor="middle" textLength="36.1" lengthAdjust="spacingAndGlyphs" class="yl">HO-1 mRNA</text>
<text transform="translate(436.49 455.9) rotate(-90)" x="0" y="0" font-size="7.9" text-anchor="middle" textLength="83.8" lengthAdjust="spacingAndGlyphs" class="yl">(fold, relative to 18S control)</text>
<text transform="translate(474.25 501) rotate(-45)" x="0" y="0" font-size="7.9" text-anchor="end">Sh-Ctrl</text>
<text transform="translate(494.95 501) rotate(-45)" x="0" y="0" font-size="7.9" text-anchor="end">Sh-HO-1</text>
<text x="7.5" y="558" font-size="12" font-weight="bold" class="lt">H</text>
<text x="44.5" y="566.5" font-size="8.4" textLength="95.5" lengthAdjust="spacingAndGlyphs" class="tt">p21 KD in HIV-1 Infection</text>
<line x1="51.5" y1="583" x2="51.5" y2="666.1" stroke="#141414" stroke-width="1.5"/>
<line x1="47.8" y1="665.5" x2="51" y2="665.5" stroke="#141414" stroke-width="1.5"/>
<text x="46.25" y="668.38" font-size="8" text-anchor="end" textLength="4.63" lengthAdjust="spacingAndGlyphs">0</text>
<line x1="47.8" y1="638.5" x2="51" y2="638.5" stroke="#141414" stroke-width="1.5"/>
<text x="46.25" y="641.78" font-size="8" text-anchor="end" textLength="18.51" lengthAdjust="spacingAndGlyphs">2000</text>
<line x1="47.8" y1="612.5" x2="51" y2="612.5" stroke="#141414" stroke-width="1.5"/>
<text x="46.25" y="615.18" font-size="8" text-anchor="end" textLength="18.51" lengthAdjust="spacingAndGlyphs">4000</text>
<line x1="47.8" y1="585.5" x2="51" y2="585.5" stroke="#141414" stroke-width="1.5"/>
<text x="46.25" y="588.58" font-size="8" text-anchor="end" textLength="18.51" lengthAdjust="spacingAndGlyphs">6000</text>
<line x1="50.4" y1="665.5" x2="131.9" y2="665.5" stroke="#141414" stroke-width="1.5"/>
<line x1="62.5" y1="665.5" x2="62.5" y2="668.1" stroke="#141414" stroke-width="1.5"/>
<line x1="82.5" y1="665.5" x2="82.5" y2="668.1" stroke="#141414" stroke-width="1.5"/>
<line x1="102.5" y1="665.5" x2="102.5" y2="668.1" stroke="#141414" stroke-width="1.5"/>
<line x1="122.5" y1="665.5" x2="122.5" y2="668.1" stroke="#141414" stroke-width="1.5"/>
<rect x="55.5" y="623" width="13.2" height="42.5" fill="#656565"/>
<line x1="62.5" y1="617.5" x2="62.5" y2="623.5" stroke="#141414" stroke-width="1.3"/>
<line x1="58.8" y1="617.5" x2="65.4" y2="617.5" stroke="#141414" stroke-width="1.3"/>
<rect x="75.5" y="647.4" width="13.4" height="18.1" fill="#656565"/>
<line x1="82.5" y1="643.3" x2="82.5" y2="647.9" stroke="#141414" stroke-width="1.3"/>
<line x1="78.9" y1="643.5" x2="85.5" y2="643.5" stroke="#141414" stroke-width="1.3"/>
<rect x="95.8" y="598" width="13.2" height="67.5" fill="#656565"/>
<line x1="102.5" y1="592.6" x2="102.5" y2="598.5" stroke="#141414" stroke-width="1.3"/>
<line x1="99.1" y1="592.5" x2="105.7" y2="592.5" stroke="#141414" stroke-width="1.3"/>
<rect x="116" y="637.8" width="13.2" height="27.7" fill="#656565"/>
<line x1="122.5" y1="636.9" x2="122.5" y2="638.3" stroke="#141414" stroke-width="1.3"/>
<line x1="119.3" y1="636.5" x2="125.9" y2="636.5" stroke="#141414" stroke-width="1.3"/>
<polyline points="58.5,617.5 58.5,584.5 99.5,584.5 99.5,590.5" fill="none" stroke="#141414" stroke-width="1.3" stroke-linejoin="miter" stroke-linecap="square"/>
<polyline points="101.5,590.5 101.5,584.5 122.5,584.5 122.5,633.5" fill="none" stroke="#141414" stroke-width="1.3" stroke-linejoin="miter" stroke-linecap="square"/>
<polyline points="62.5,613.5 62.5,610.5 82.5,610.5 82.5,640.5" fill="none" stroke="#141414" stroke-width="1.3" stroke-linejoin="miter" stroke-linecap="square"/>
<text x="62.8" y="579.25" font-size="7.4" textLength="31.9" lengthAdjust="spacingAndGlyphs">p=0.0045</text>
<text x="101.55" y="579.25" font-size="7.4" textLength="32.65" lengthAdjust="spacingAndGlyphs">p=0.0002</text>
<text x="62.8" y="605" font-size="7.4" textLength="31.4" lengthAdjust="spacingAndGlyphs">p=0.0041</text>
<text transform="translate(20.7 623.9) rotate(-90)" x="0" y="0" font-size="9.3" text-anchor="middle" textLength="97" lengthAdjust="spacingAndGlyphs" class="yl">HIV-1 luciferase (arbitrary units)</text>
<text transform="translate(64.6 676) rotate(-45)" x="0" y="0" font-size="7.9" text-anchor="end">Sh-Ctrl</text>
<text transform="translate(84.7 676) rotate(-45)" x="0" y="0" font-size="7.9" text-anchor="end">Sh-Ctrl+heme</text>
<text transform="translate(104.9 676) rotate(-45)" x="0" y="0" font-size="7.9" text-anchor="end">Sh-p21</text>
<text transform="translate(125.1 676) rotate(-45)" x="0" y="0" font-size="7.9" text-anchor="end">Sh-p21+heme</text>
<text x="190" y="576.25" font-size="8.4" textLength="40.5" lengthAdjust="spacingAndGlyphs" class="tt">p21 mRNA</text>
<line x1="187.5" y1="588" x2="187.5" y2="668.3" stroke="#141414" stroke-width="1.5"/>
<line x1="184.1" y1="667.5" x2="187.3" y2="667.5" stroke="#141414" stroke-width="1.5"/>
<text x="182.3" y="670.58" font-size="8" text-anchor="end" textLength="11.56" lengthAdjust="spacingAndGlyphs">0.0</text>
<line x1="184.1" y1="641.5" x2="187.3" y2="641.5" stroke="#141414" stroke-width="1.5"/>
<text x="182.3" y="644.53" font-size="8" text-anchor="end" textLength="11.56" lengthAdjust="spacingAndGlyphs">0.5</text>
<line x1="184.1" y1="615.5" x2="187.3" y2="615.5" stroke="#141414" stroke-width="1.5"/>
<text x="182.3" y="618.48" font-size="8" text-anchor="end" textLength="11.56" lengthAdjust="spacingAndGlyphs">1.0</text>
<line x1="184.1" y1="589.5" x2="187.3" y2="589.5" stroke="#141414" stroke-width="1.5"/>
<text x="182.3" y="592.43" font-size="8" text-anchor="end" textLength="11.56" lengthAdjust="spacingAndGlyphs">1.5</text>
<line x1="186.7" y1="667.5" x2="232.5" y2="667.5" stroke="#141414" stroke-width="1.5"/>
<line x1="199.5" y1="667.7" x2="199.5" y2="670.3" stroke="#141414" stroke-width="1.5"/>
<line x1="221.5" y1="667.7" x2="221.5" y2="670.3" stroke="#141414" stroke-width="1.5"/>
<rect x="192.5" y="616.25" width="13.75" height="51.45" fill="#656565"/>
<line x1="199.5" y1="603.75" x2="199.5" y2="616.75" stroke="#141414" stroke-width="1.3"/>
<line x1="196.18" y1="603.5" x2="202.57" y2="603.5" stroke="#141414" stroke-width="1.3"/>
<rect x="214.5" y="651.25" width="14.25" height="16.45" fill="#656565"/>
<line x1="221.5" y1="650" x2="221.5" y2="651.75" stroke="#141414" stroke-width="1.3"/>
<line x1="218.43" y1="650.5" x2="224.82" y2="650.5" stroke="#141414" stroke-width="1.3"/>
<polyline points="197.5,602.5 197.5,595.5 221.5,595.5 221.5,646.5" fill="none" stroke="#141414" stroke-width="1.3" stroke-linejoin="miter" stroke-linecap="square"/>
<text x="194.8" y="590.5" font-size="7.4" textLength="28.65" lengthAdjust="spacingAndGlyphs">p=0.059</text>
<text transform="translate(154.29 629.7) rotate(-90)" x="0" y="0" font-size="7.9" text-anchor="middle" textLength="36.4" lengthAdjust="spacingAndGlyphs" class="yl">p21 mRNA</text>
<text transform="translate(164.79 627.5) rotate(-90)" x="0" y="0" font-size="7.9" text-anchor="middle" textLength="84.6" lengthAdjust="spacingAndGlyphs" class="yl">(fold, relative to 18S control)</text>
<text transform="translate(201.9 678.2) rotate(-45)" x="0" y="0" font-size="7.9" text-anchor="end">Sh-Ctrl</text>
<text transform="translate(224.1 678.2) rotate(-45)" x="0" y="0" font-size="7.9" text-anchor="end">Sh-p21</text>
<text x="265" y="558" font-size="12" font-weight="bold" class="lt">I</text>
<text x="290" y="567.5" font-size="8.4" textLength="107.5" lengthAdjust="spacingAndGlyphs" class="tt">HIF-1α KD in HIV-1 Infection</text>
<line x1="303.5" y1="578" x2="303.5" y2="661.2" stroke="#141414" stroke-width="1.5"/>
<line x1="299.9" y1="660.5" x2="303.1" y2="660.5" stroke="#141414" stroke-width="1.5"/>
<text x="298" y="663.48" font-size="8" text-anchor="end" textLength="4.63" lengthAdjust="spacingAndGlyphs">0</text>
<line x1="299.9" y1="640.5" x2="303.1" y2="640.5" stroke="#141414" stroke-width="1.5"/>
<text x="298" y="643.42" font-size="8" text-anchor="end" textLength="18.51" lengthAdjust="spacingAndGlyphs">2000</text>
<line x1="299.9" y1="620.5" x2="303.1" y2="620.5" stroke="#141414" stroke-width="1.5"/>
<text x="298" y="623.36" font-size="8" text-anchor="end" textLength="18.51" lengthAdjust="spacingAndGlyphs">4000</text>
<line x1="299.9" y1="600.5" x2="303.1" y2="600.5" stroke="#141414" stroke-width="1.5"/>
<text x="298" y="603.3" font-size="8" text-anchor="end" textLength="18.51" lengthAdjust="spacingAndGlyphs">6000</text>
<line x1="299.9" y1="580.5" x2="303.1" y2="580.5" stroke="#141414" stroke-width="1.5"/>
<text x="298" y="583.24" font-size="8" text-anchor="end" textLength="18.51" lengthAdjust="spacingAndGlyphs">8000</text>
<line x1="302.5" y1="660.5" x2="383" y2="660.5" stroke="#141414" stroke-width="1.5"/>
<line x1="314.5" y1="660.6" x2="314.5" y2="663.2" stroke="#141414" stroke-width="1.5"/>
<line x1="334.5" y1="660.6" x2="334.5" y2="663.2" stroke="#141414" stroke-width="1.5"/>
<line x1="354.5" y1="660.6" x2="354.5" y2="663.2" stroke="#141414" stroke-width="1.5"/>
<line x1="374.5" y1="660.6" x2="374.5" y2="663.2" stroke="#141414" stroke-width="1.5"/>
<rect x="307.5" y="628.5" width="13.5" height="32.1" fill="#656565"/>
<line x1="314.5" y1="624" x2="314.5" y2="629" stroke="#141414" stroke-width="1.3"/>
<line x1="310.95" y1="624.5" x2="317.55" y2="624.5" stroke="#141414" stroke-width="1.3"/>
<rect x="327.6" y="647.3" width="13.4" height="13.3" fill="#656565"/>
<line x1="334.5" y1="643.1" x2="334.5" y2="647.8" stroke="#141414" stroke-width="1.3"/>
<line x1="331" y1="643.5" x2="337.6" y2="643.5" stroke="#141414" stroke-width="1.3"/>
<rect x="348" y="603.5" width="13.2" height="57.1" fill="#656565"/>
<line x1="354.5" y1="602.2" x2="354.5" y2="604" stroke="#141414" stroke-width="1.3"/>
<line x1="351.3" y1="602.5" x2="357.9" y2="602.5" stroke="#141414" stroke-width="1.3"/>
<rect x="368.2" y="630.3" width="13.3" height="30.3" fill="#656565"/>
<line x1="374.5" y1="629.8" x2="374.5" y2="630.8" stroke="#141414" stroke-width="1.3"/>
<line x1="371.55" y1="629.5" x2="378.15" y2="629.5" stroke="#141414" stroke-width="1.3"/>
<polyline points="310.5,619.5 310.5,595.5 354.5,595.5 354.5,600.5" fill="none" stroke="#141414" stroke-width="1.3" stroke-linejoin="miter" stroke-linecap="square"/>
<polyline points="355.5,600.5 355.5,595.5 375.5,595.5 375.5,627.5" fill="none" stroke="#141414" stroke-width="1.3" stroke-linejoin="miter" stroke-linecap="square"/>
<polyline points="313.5,619.5 313.5,616.5 334.5,616.5 334.5,641.5" fill="none" stroke="#141414" stroke-width="1.3" stroke-linejoin="miter" stroke-linecap="square"/>
<text x="315.3" y="590.5" font-size="7.4" textLength="33.4" lengthAdjust="spacingAndGlyphs">p=0.0006</text>
<text x="355.8" y="590.5" font-size="7.4" textLength="32.2" lengthAdjust="spacingAndGlyphs">p=0.0001</text>
<text x="314.6" y="611" font-size="7.4" textLength="31.5" lengthAdjust="spacingAndGlyphs">p=0.0041</text>
<text transform="translate(272.45 618.9) rotate(-90)" x="0" y="0" font-size="9.3" text-anchor="middle" textLength="97" lengthAdjust="spacingAndGlyphs" class="yl">HIV-1 luciferase (arbitrary units)</text>
<text transform="translate(316.75 671.1) rotate(-45)" x="0" y="0" font-size="7.9" text-anchor="end">Sh-Ctrl</text>
<text transform="translate(336.8 671.1) rotate(-45)" x="0" y="0" font-size="7.9" text-anchor="end">Sh-Ctrl+heme</text>
<text transform="translate(357.1 671.1) rotate(-45)" x="0" y="0" font-size="7.9" text-anchor="end">Sh-HIF-1α</text>
<text transform="translate(377.35 671.1) rotate(-45)" x="0" y="0" font-size="7.9" text-anchor="end">Sh-HIF-1α+heme</text>
<text x="442.5" y="570.5" font-size="8.4" textLength="53.75" lengthAdjust="spacingAndGlyphs" class="tt">HIF-1α mRNA</text>
<line x1="447.5" y1="581" x2="447.5" y2="662.9" stroke="#141414" stroke-width="1.5"/>
<line x1="444.1" y1="662.5" x2="447.3" y2="662.5" stroke="#141414" stroke-width="1.5"/>
<text x="440.8" y="665.18" font-size="8" text-anchor="end" textLength="11.56" lengthAdjust="spacingAndGlyphs">0.0</text>
<line x1="444.1" y1="636.5" x2="447.3" y2="636.5" stroke="#141414" stroke-width="1.5"/>
<text x="440.8" y="639.28" font-size="8" text-anchor="end" textLength="11.56" lengthAdjust="spacingAndGlyphs">0.5</text>
<line x1="444.1" y1="610.5" x2="447.3" y2="610.5" stroke="#141414" stroke-width="1.5"/>
<text x="440.8" y="613.38" font-size="8" text-anchor="end" textLength="11.56" lengthAdjust="spacingAndGlyphs">1.0</text>
<line x1="444.1" y1="584.5" x2="447.3" y2="584.5" stroke="#141414" stroke-width="1.5"/>
<text x="440.8" y="587.48" font-size="8" text-anchor="end" textLength="11.56" lengthAdjust="spacingAndGlyphs">1.5</text>
<line x1="446.7" y1="662.5" x2="491.25" y2="662.5" stroke="#141414" stroke-width="1.5"/>
<line x1="458.5" y1="662.3" x2="458.5" y2="664.9" stroke="#141414" stroke-width="1.5"/>
<line x1="480.5" y1="662.3" x2="480.5" y2="664.9" stroke="#141414" stroke-width="1.5"/>
<rect x="451.25" y="610.5" width="13.75" height="51.8" fill="#656565"/>
<line x1="458.5" y1="605.5" x2="458.5" y2="611" stroke="#141414" stroke-width="1.3"/>
<line x1="454.93" y1="605.5" x2="461.32" y2="605.5" stroke="#141414" stroke-width="1.3"/>
<rect x="473.75" y="658" width="13.75" height="4.3" fill="#656565"/>
<line x1="480.5" y1="657.5" x2="480.5" y2="658.5" stroke="#141414" stroke-width="1.3"/>
<line x1="477.43" y1="657.5" x2="483.82" y2="657.5" stroke="#141414" stroke-width="1.3"/>
<polyline points="455.5,601.5 455.5,596.5 478.5,596.5 478.5,646.5" fill="none" stroke="#141414" stroke-width="1.3" stroke-linejoin="miter" stroke-linecap="square"/>
<text x="450.3" y="590.5" font-size="7.4" textLength="31.9" lengthAdjust="spacingAndGlyphs">p=0.0057</text>
<text transform="translate(412.79 621.8) rotate(-90)" x="0" y="0" font-size="7.9" text-anchor="middle" textLength="43.7" lengthAdjust="spacingAndGlyphs" class="yl">HIF-1α mRNA</text>
<text transform="translate(423.29 622.1) rotate(-90)" x="0" y="0" font-size="7.9" text-anchor="middle" textLength="83.8" lengthAdjust="spacingAndGlyphs" class="yl">(fold, relative to 18S control)</text>
<text transform="translate(460.6 672.8) rotate(-45)" x="0" y="0" font-size="7.9" text-anchor="end">Sh-Ctrl</text>
<text transform="translate(483.1 672.8) rotate(-45)" x="0" y="0" font-size="7.9" text-anchor="end">Sh-HIF-1α</text>
<rect x="0.6" y="0.6" width="518.8" height="718.8" fill="none" stroke="#000" stroke-width="1.3"/>
</svg>
</body></html>
